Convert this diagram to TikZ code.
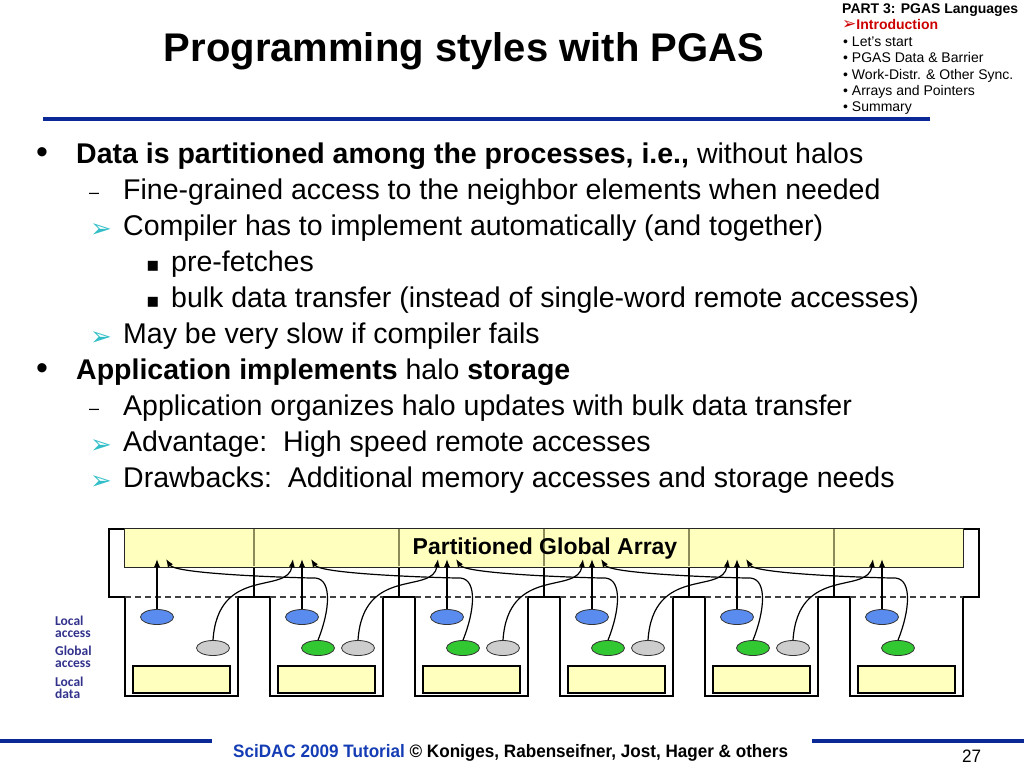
\documentclass[tikz,border=0pt]{standalone}
\usepackage{fontspec}
\setmainfont{Liberation Sans}
\newfontfamily\symfont{DejaVu Sans}
\newfontfamily\legfont{Carlito}
\newfontfamily\footfont[FakeStretch=0.95]{Liberation Sans}
\usetikzlibrary{arrows.meta,shapes.geometric,calc}

\definecolor{ruleblue}{RGB}{10,40,150}
\definecolor{menured}{RGB}{204,0,0}
\definecolor{bulletteal}{RGB}{50,190,200}
\definecolor{bandyellow}{RGB}{255,255,190}
\definecolor{bandline}{RGB}{140,140,90}
\definecolor{accblue}{RGB}{90,140,240}
\definecolor{accgreen}{RGB}{50,200,50}
\definecolor{accgray}{RGB}{205,205,205}
\definecolor{legblue}{RGB}{50,50,140}
\definecolor{footblue}{RGB}{20,60,180}

\begin{document}
\begin{tikzpicture}[
  x=1pt, y=-1pt,
  title/.style={anchor=base, inner sep=0pt, font=\fontsize{40}{48}\selectfont\bfseries},
  menu/.style={anchor=base west, inner sep=0pt, font=\fontsize{14}{16}\selectfont},
  item/.style={anchor=base west, inner sep=0pt, font=\fontsize{28.5}{34}\selectfont},
  bigdot/.style={anchor=base west, inner sep=0pt, font=\fontsize{34}{34}\selectfont},
  endash/.style={anchor=base west, inner sep=0pt, font=\fontsize{18}{18}\selectfont},
  arrowbul/.style={anchor=base west, inner sep=0pt, text=bulletteal, font=\symfont\fontsize{26}{26}\selectfont},
  sqbul/.style={anchor=base west, inner sep=0pt, font=\symfont\fontsize{20}{20}\selectfont},
  proc/.style={draw=black, fill=white, line width=1.4pt, line join=miter},
  splitline/.style={draw=black!75, line width=1.2pt, dash pattern=on 6pt off 4pt},
  band/.style={draw=black!85, fill=bandyellow, line width=1.2pt, inner sep=0pt, minimum width=839pt, minimum height=39pt, anchor=north west},
  bandtext/.style={inner sep=0pt, font=\fontsize{23}{27}\selectfont\bfseries},
  ldata/.style={draw=black, fill=bandyellow, line width=1.2pt, inner sep=0pt, minimum width=97pt, minimum height=27pt},
  acc/.style={ellipse, draw=black!80, line width=0.8pt, inner sep=0pt, minimum width=33pt, minimum height=15pt},
  blueacc/.style={acc, fill=accblue},
  greenacc/.style={acc, fill=accgreen},
  grayacc/.style={acc, fill=accgray},
  link/.style={line width=1.2pt, -{Latex[length=8pt,width=6pt]}},
  legend/.style={anchor=base west, inner sep=0pt, align=left, text=legblue, font=\legfont\bfseries\fontsize{13.5}{12}\selectfont},
  rule/.style={line width=4.5pt, draw=ruleblue},
  foot/.style={anchor=base west, inner sep=0pt, font=\footfont\bfseries\fontsize{18}{20}\selectfont},
  pagenum/.style={anchor=base west, inner sep=0pt, font=\footfont\fontsize{18}{20}\selectfont}
]
  \useasboundingbox (0,0) rectangle (1024,768);

  % Titulo y menu
  \node[title] (title) at (464,62) {Programming styles with PGAS};
  \node[menu, font=\fontsize{14}{16}\selectfont\bfseries] (m0) at (842,14) {PART 3: PGAS Languages};
  \node[menu, text=menured] (m1) at (842,30) {{\symfont\bfseries\fontsize{17}{17}\selectfont ➢}\bfseries Introduction};
  \node[menu] (m2) at (843,47) {• Let’s start};
  \node[menu] (m3) at (843,63) {• PGAS Data \& Barrier};
  \node[menu] (m4) at (843,79) {• Work-Distr. \& Other Sync.};
  \node[menu] (m5) at (843,95) {• Arrays and Pointers};
  \node[menu] (m6) at (843,111) {• Summary};
  \draw[rule] (43,119) -- (930,119);

  % Texto con vinetas
  \node[bigdot] (b1) at (36,163) {•};
  \node[item] (l1) at (76,163) {{\bfseries Data is partitioned among the processes, i.e.,} without halos};
  \node[endash] (b2) at (89,198) {–};
  \node[item] (l2) at (123,199) {Fine-grained access to the neighbor elements when needed};
  \node[arrowbul] (b3) at (90,237) {➢};
  \node[item] (l3) at (123,235) {Compiler has to implement automatically (and together)};
  \node[sqbul] (b4) at (146,271) {▪};
  \node[item] (l4) at (171,271) {pre-fetches};
  \node[sqbul] (b5) at (146,307) {▪};
  \node[item] (l5) at (171,307) {bulk data transfer (instead of single-word remote accesses)};
  \node[arrowbul] (b6) at (90,345) {➢};
  \node[item] (l6) at (123,343) {May be very slow if compiler fails};
  \node[bigdot] (b7) at (36,379) {•};
  \node[item] (l7) at (76,379) {{\bfseries Application implements} halo {\bfseries storage}};
  \node[endash] (b8) at (89,414) {–};
  \node[item] (l8) at (123,415) {Application organizes halo updates with bulk data transfer};
  \node[arrowbul] (b9) at (90,453) {➢};
  \node[item] (l9) at (123,451) {Advantage:\ \ High speed remote accesses};
  \node[arrowbul] (b10) at (90,489) {➢};
  \node[item] (l10) at (123,487) {Drawbacks:\ \ Additional memory accesses and storage needs};

  % Procesos: parte global arriba, parte local abajo
  \foreach \i in {1,...,6} {
    \pgfmathsetmacro{\xl}{125+145*(\i-1)}
    \pgfmathsetmacro{\xr}{\xl+113}
    \pgfmathsetmacro{\gl}{109+145*(\i-1)}
    \pgfmathsetmacro{\gr}{\gl+145}
    \draw[proc] (\gl,529) -- (\gr,529) -- (\gr,597) -- (\xr,597) -- (\xr,696) -- (\xl,696) -- (\xl,597) -- (\gl,597) -- cycle;
    \draw[splitline] (\xl,597) -- (\xr,597);
    \node[ldata] (ld\i) at (\xl+56.5,679.5) {};
    \node[blueacc] (la\i) at (\xl+32,617) {};
    \coordinate (t\i) at (\xl+32,559);
    \coordinate (tl\i) at (\xl+23,559);
    \coordinate (tr\i) at (\xl+41,559);
  }

  % Arreglo global particionado
  \node[band] (garray) at (124,528) {};
  \foreach \x in {254,399,544,689,834}
    \draw[bandline, line width=1.2pt] (\x,528.6) -- (\x,566.4);
  \node[bandtext] (gtitle) at (545,549) {Partitioned Global Array};

  % Accesos globales
  \foreach \i in {2,...,6}
    \node[greenacc] (ga\i) at (28+145*\i,648) {};
  \foreach \i in {1,...,5}
    \node[grayacc] (gb\i) at (68+145*\i,648) {};

  % Flechas
  \foreach \i in {1,...,6}
    \draw[link] (la\i) -- (t\i);
  \foreach \i [evaluate=\i as \j using int(\i+1)] in {1,...,5}
    \draw[link] (gb\i.north) .. controls ($(gb\i.north)+(5,-75)$) and ($(tl\j)+(-5,36)$) .. (tl\j);
  \foreach \i [evaluate=\i as \j using int(\i-1)] in {2,...,6}
    \draw[link] (ga\i.north) .. controls ($(ga\i.north)+(12,-30)$) and ($(ga\i.north)+(14,-60)$) .. ($(ga\i.north)+(-2,-62)$)
      .. controls ($(ga\i.north)+(-52,-63)$) and ($(tr\j)+(9,14)$) .. (tr\j);

  % Leyenda
  \node[legend] (lg1) at (55,637) {Local\\access};
  \node[legend] (lg2) at (55,667) {Global\\access};
  \node[legend] (lg3) at (55,698) {Local\\data};

  % Pie de pagina
  \draw[rule] (0,741) -- (212,741);
  \draw[rule] (812,741) -- (1024,741);
  \node[foot] (ft) at (233,757) {{\color{footblue}SciDAC 2009 Tutorial} © Koniges, Rabenseifner, Jost, Hager \& others};
  \node[pagenum] (pg) at (962,762) {27};
\end{tikzpicture}
\end{document}
